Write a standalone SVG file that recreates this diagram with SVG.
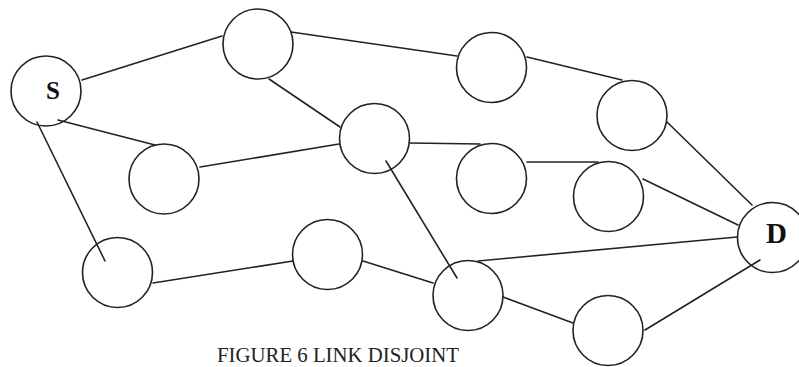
<svg xmlns="http://www.w3.org/2000/svg" width="799" height="367" viewBox="0 0 799 367">
<style>
.n{fill:#fff;stroke:#222;stroke-width:1.6}
.e line{stroke:#222;stroke-width:1.6;stroke-linecap:round}
.lbl{font-family:"Liberation Serif","Times New Roman",serif;font-weight:bold;fill:#111;text-anchor:middle}
.cap{font-family:"Liberation Serif","Times New Roman",serif;font-size:20px;fill:#222}
</style>
<rect width="799" height="367" fill="#fff"/>
<g id="S"><circle class="n" cx="46" cy="91" r="35"/><text class="lbl" x="53" y="99" font-size="25">S</text></g>
<g id="n1"><circle class="n" cx="258" cy="44" r="35"/></g>
<g id="n2"><circle class="n" cx="491.5" cy="67.5" r="35"/></g>
<g id="n3"><circle class="n" cx="632" cy="115.5" r="35"/></g>
<g id="n4"><circle class="n" cx="374.5" cy="138.5" r="35"/></g>
<g id="n5"><circle class="n" cx="164" cy="179" r="35"/></g>
<g id="n6"><circle class="n" cx="491.5" cy="178.5" r="35"/></g>
<g id="n7"><circle class="n" cx="608.5" cy="196.5" r="35"/></g>
<g id="D"><circle class="n" cx="772.5" cy="237.5" r="35"/><text class="lbl" x="776.5" y="243" font-size="29">D</text></g>
<g id="n8"><circle class="n" cx="117.5" cy="272.5" r="35"/></g>
<g id="n9"><circle class="n" cx="327.5" cy="254.5" r="35"/></g>
<g id="n10"><circle class="n" cx="468" cy="295.5" r="35"/></g>
<g id="n11"><circle class="n" cx="608" cy="330.5" r="35"/></g>
<g id="connectors" class="e">
<line x1="82" y1="80" x2="222" y2="36"/>
<line x1="58" y1="120" x2="155" y2="145"/>
<line x1="37" y1="122" x2="105" y2="261"/>
<line x1="291" y1="32" x2="457" y2="56"/>
<line x1="269" y1="79" x2="340" y2="127"/>
<line x1="527" y1="57" x2="622" y2="80"/>
<line x1="667" y1="122" x2="752" y2="205"/>
<line x1="200" y1="167" x2="339" y2="144"/>
<line x1="410" y1="143" x2="480" y2="144"/>
<line x1="527" y1="162" x2="598" y2="162"/>
<line x1="643" y1="179" x2="738" y2="225"/>
<line x1="386" y1="161" x2="457" y2="278"/>
<line x1="153" y1="283" x2="293" y2="261"/>
<line x1="363" y1="261" x2="433" y2="283"/>
<line x1="478" y1="261" x2="737" y2="237"/>
<line x1="503" y1="297" x2="573" y2="323"/>
<line x1="645" y1="330" x2="760" y2="260"/>
</g>
<text class="cap" x="217" y="362" textLength="242" lengthAdjust="spacingAndGlyphs">FIGURE 6 LINK DISJOINT</text>
</svg>
